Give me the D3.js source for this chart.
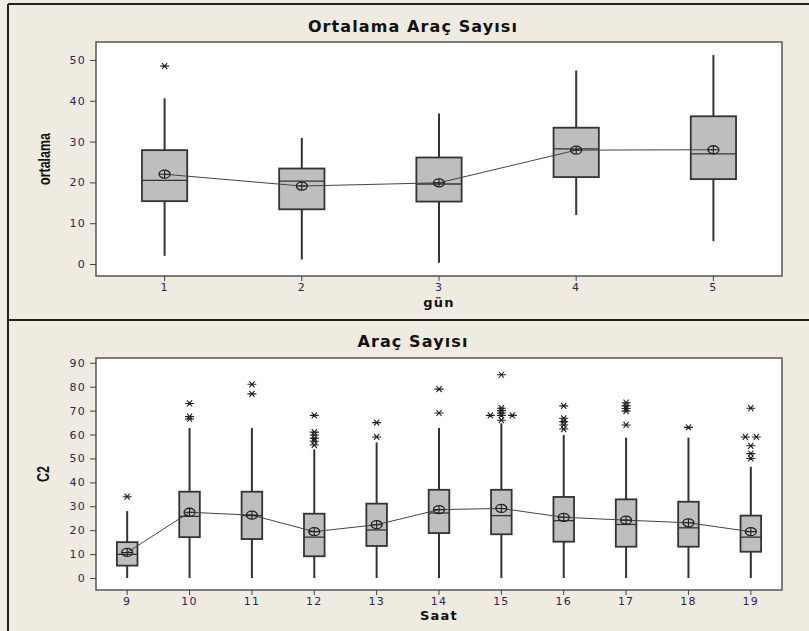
<!DOCTYPE html>
<html>
<head>
<meta charset="utf-8">
<script src="https://cdn.jsdelivr.net/npm/d3@7"></script>
<style>
  html, body { margin: 0; padding: 0; background: #efebe1; }
  svg { display: block; }
</style>
</head>
<body>
<svg id="chart" width="809" height="631"></svg>
<script>
// Üst grafik: gün bazında ortalama
const days = ['1', '2', '3', '4', '5'];
const dayWhiskerLow = [2.0, 1.1, 0.3, 12.0, 5.6];
const dayQ1 = [15.4, 13.4, 15.3, 21.3, 20.8];
const dayMedian = [20.5, 20.3, 19.6, 28.2, 27.0];
const dayQ3 = [27.9, 23.4, 26.1, 33.4, 36.2];
const dayWhiskerHigh = [40.6, 30.9, 36.9, 47.4, 51.2];
const dayMean = [22.0, 19.1, 19.9, 27.9, 28.0];
const dayOutliers = [[48.5], [], [], [], []];
const dayTicks = [0, 10, 20, 30, 40, 50];

// Alt grafik: saat bazında araç sayısı
const hours = ['9', '10', '11', '12', '13', '14', '15', '16', '17', '18', '19'];
const hourWhiskerLow = [0, 0, 0, 0, 0, 0, 0, 0, 0, 0, 0];
const hourQ1 = [5.2, 17.1, 16.3, 9.1, 13.4, 18.8, 18.3, 15.2, 13.1, 13.1, 11.0];
const hourMedian = [9.9, 25.8, 26.1, 17.1, 20.1, 27.2, 26.1, 24.0, 22.4, 21.0, 17.1];
const hourQ3 = [15.0, 36.1, 36.1, 26.9, 31.1, 36.9, 36.9, 33.9, 32.9, 31.9, 26.1];
const hourWhiskerHigh = [28.0, 62.7, 62.7, 53.8, 56.7, 62.7, 64.7, 59.8, 58.7, 58.7, 46.5];
const hourMean = [10.7, 27.5, 26.3, 19.4, 22.3, 28.6, 29.1, 25.4, 24.2, 23.1, 19.4];
const hourOutliers = [
  [34],
  [73, 67.5, 66.5],
  [81, 77],
  [68, 61, 59.8, 58.4, 57.2, 55.6],
  [65, 59],
  [79, 69],
  [85, 71, 70, 69, 68, 68, 68, 66],
  [72, 66.8, 65.4, 64, 62.3],
  [73.3, 72, 70.9, 69.8, 64],
  [63],
  [71, 59, 59, 55.3, 52, 50]
];
const hourTicks = [0, 10, 20, 30, 40, 50, 60, 70, 80, 90];

const svg = d3.select('#chart');
const tickColor = '#2a2460';
const ink = '#333';
const font = '"DejaVu Sans", Verdana, sans-serif';

// çerçeve çizgileri
svg.append('line').attr('x1', 8).attr('y1', 4).attr('x2', 8).attr('y2', 631)
  .attr('stroke', '#222').attr('stroke-width', 2);
svg.append('line').attr('x1', 8).attr('y1', 4).attr('x2', 809).attr('y2', 4)
  .attr('stroke', '#222').attr('stroke-width', 2);
svg.append('line').attr('x1', 8).attr('y1', 320).attr('x2', 809).attr('y2', 320)
  .attr('stroke', '#222').attr('stroke-width', 2);

function asteriskPath(cx, cy) {
  return `M${cx - 4.5},${cy}L${cx + 4.5},${cy}` +
    `M${cx - 2.6},${cy - 3}L${cx + 2.6},${cy + 3}` +
    `M${cx - 2.6},${cy + 3}L${cx + 2.6},${cy - 3}`;
}

function drawPanel(p) {
  const g = svg.append('g');

  const x = d3.scaleBand().domain(p.cats).range([p.left, p.right]).padding(0);
  const y = d3.scaleLinear().domain(p.yDomain).range([p.bottom, p.top]);
  const cx = c => x(c) + x.bandwidth() / 2;
  const bw = x.bandwidth() * 0.33;

  g.append('rect')
    .attr('x', p.left).attr('y', p.top)
    .attr('width', p.right - p.left).attr('height', p.bottom - p.top)
    .attr('fill', '#fff').attr('stroke', '#555').attr('stroke-width', 1.5);

  // eksenler
  const yAxis = g.append('g')
    .attr('transform', `translate(${p.left},0)`)
    .call(d3.axisLeft(y).tickValues(p.ticks).tickSize(6).tickPadding(4));
  const xAxis = g.append('g')
    .attr('transform', `translate(0,${p.bottom})`)
    .call(d3.axisBottom(x).tickSize(5).tickPadding(2));
  [yAxis, xAxis].forEach(a => {
    a.select('.domain').remove();
    a.selectAll('line').attr('stroke', '#444');
    a.selectAll('text')
      .attr('fill', tickColor)
      .style('font-family', font)
      .style('font-size', '11px')
      .style('letter-spacing', '1.2px');
  });

  // bıyıklar
  g.append('g').selectAll('line')
    .data(p.cats)
    .enter()
    .append('line')
    .attr('x1', cx).attr('x2', cx)
    .attr('y1', (d, i) => y(p.low[i]))
    .attr('y2', (d, i) => y(p.high[i]))
    .attr('stroke', ink).attr('stroke-width', 2);

  // kutular
  g.append('g').selectAll('rect')
    .data(p.cats)
    .enter()
    .append('rect')
    .attr('x', d => cx(d) - bw / 2)
    .attr('y', (d, i) => y(p.q3[i]))
    .attr('width', bw)
    .attr('height', (d, i) => y(p.q1[i]) - y(p.q3[i]))
    .attr('fill', '#bebebe').attr('stroke', ink).attr('stroke-width', 1.8);

  // medyan
  g.append('g').selectAll('line')
    .data(p.cats)
    .enter()
    .append('line')
    .attr('x1', d => cx(d) - bw / 2).attr('x2', d => cx(d) + bw / 2)
    .attr('y1', (d, i) => y(p.median[i])).attr('y2', (d, i) => y(p.median[i]))
    .attr('stroke', ink).attr('stroke-width', 1.3);

  // ortalama bağlantı çizgisi
  const line = d3.line().x(d => cx(d[0])).y(d => y(d[1]));
  g.append('path')
    .datum(p.cats.map((c, i) => [c, p.mean[i]]))
    .attr('d', line)
    .attr('fill', 'none').attr('stroke', '#444').attr('stroke-width', 1);

  // ortalama sembolü
  const means = g.append('g').selectAll('g')
    .data(p.cats)
    .enter()
    .append('g')
    .attr('transform', (d, i) => `translate(${cx(d)},${y(p.mean[i])})`);
  means.append('ellipse').attr('rx', 5.5).attr('ry', 4)
    .attr('fill', 'none').attr('stroke', '#222').attr('stroke-width', 1.3);
  means.append('path').attr('d', 'M-5.5,0L5.5,0M0,-4L0,4')
    .attr('stroke', '#222').attr('stroke-width', 1.1);

  // aykırı değerler (aynı değerler yan yana kaydırılır)
  const outPts = [];
  p.cats.forEach((c, i) => {
    const counts = d3.rollup(p.outliers[i], v => v.length, v => v);
    const seen = new Map();
    p.outliers[i].forEach(v => {
      const n = counts.get(v);
      const k = seen.get(v) || 0;
      seen.set(v, k + 1);
      outPts.push({ x: cx(c) + (k - (n - 1) / 2) * 11, y: y(v) });
    });
  });
  g.append('g').selectAll('path')
    .data(outPts)
    .enter()
    .append('path')
    .attr('d', d => asteriskPath(d.x, d.y))
    .attr('stroke', '#222').attr('stroke-width', 1.1).attr('fill', 'none');

  // başlıklar
  g.append('text')
    .attr('x', 413).attr('y', p.titleY)
    .attr('text-anchor', 'middle')
    .attr('fill', '#111')
    .style('font-family', font)
    .style('font-weight', 'bold').style('font-size', '16px')
    .style('letter-spacing', '1.1px')
    .text(p.title);

  g.append('text')
    .attr('x', (p.left + p.right) / 2).attr('y', p.xLabelY)
    .attr('text-anchor', 'middle')
    .attr('fill', '#111')
    .style('font-family', font)
    .style('font-weight', 'bold').style('font-size', '13px')
    .style('letter-spacing', '1.2px')
    .text(p.xLabel);

  g.append('text')
    .attr('transform', `translate(${p.yLabelX},${(p.top + p.bottom) / 2}) rotate(-90) scale(0.78,1)`)
    .attr('text-anchor', 'middle')
    .attr('fill', '#111')
    .style('font-family', '"Liberation Sans", Arial, sans-serif')
    .style('font-weight', 'bold').style('font-size', '16px')
    .text(p.yLabel);
}

drawPanel({
  cats: days, low: dayWhiskerLow, q1: dayQ1, median: dayMedian, q3: dayQ3,
  high: dayWhiskerHigh, mean: dayMean, outliers: dayOutliers, ticks: dayTicks,
  yDomain: [-2.94, 54.4],
  left: 96, right: 782, top: 42, bottom: 276,
  title: 'Ortalama Araç Sayısı', titleY: 32,
  xLabel: 'gün', xLabelY: 307,
  yLabel: 'ortalama', yLabelX: 50
});

drawPanel({
  cats: hours, low: hourWhiskerLow, q1: hourQ1, median: hourMedian, q3: hourQ3,
  high: hourWhiskerHigh, mean: hourMean, outliers: hourOutliers, ticks: hourTicks,
  yDomain: [-5.0, 92.0],
  left: 96, right: 782, top: 358, bottom: 590,
  title: 'Araç Sayısı', titleY: 347,
  xLabel: 'Saat', xLabelY: 620,
  yLabel: 'C2', yLabelX: 49
});
</script>
</body>
</html>
